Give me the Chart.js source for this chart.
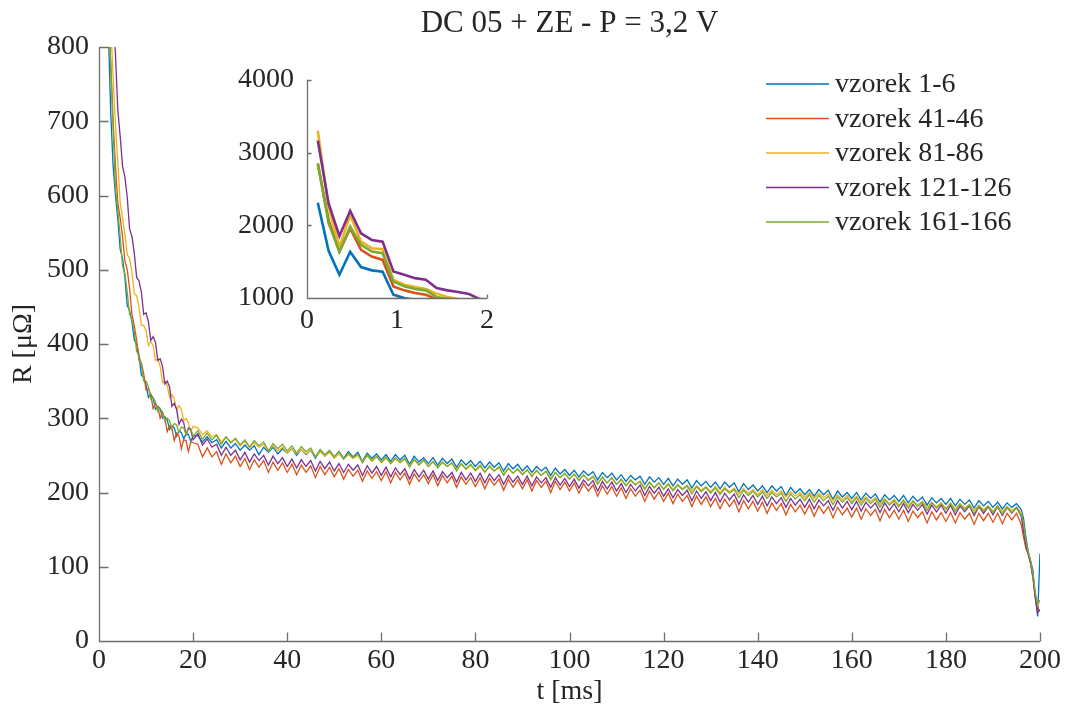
<!DOCTYPE html>
<html><head><meta charset="utf-8">
<script src="https://cdn.jsdelivr.net/npm/chart.js@4.4.0/dist/chart.umd.min.js"></script>
<style>
html,body{margin:0;padding:0;background:#fff;}
#wrap{position:relative;width:1066px;height:718px;overflow:hidden;}
#main{position:absolute;left:0;top:0;}
#inset{position:absolute;left:200px;top:50px;}
</style></head><body>
<div id="wrap"><canvas id="main" width="1066" height="718"></canvas><canvas id="inset" width="300" height="300"></canvas></div>
<script>
const titleText = 'DC 05 + ZE - P = 3,2 V';
const xLabel = 't [ms]';
const yLabel = 'R [\u03bc\u03a9]';
const seriesNames = ['vzorek 1-6','vzorek 41-46','vzorek 81-86','vzorek 121-126','vzorek 161-166'];
const seriesColors = ['#0072BD','#D95319','#EDB120','#7E2F8E','#77AC30'];
const xTicks = [0,20,40,60,80,100,120,140,160,180,200];
const yTicks = [0,100,200,300,400,500,600,700,800];
const insetXTicks = [0,1,2];
const insetYTicks = [1000,2000,3000,4000];

// time [ms]
const t = [0.12,0.24,0.36,0.48,0.6,0.72,0.84,0.96,1.08,1.2,1.32,1.44,1.56,1.68,1.8,1.92,
2,2.5,3,3.5,4,4.5,5,5.5,6,6.5,7,7.5,8,8.5,9,9.5,10,10.5,11,11.5,12,12.5,13,13.5,14,14.5,15,15.5,16,16.5,17,17.5,18,18.5,19,19.5,20,
21,22,23,24,25,26,27,28,29,30,31,32,33,34,35,36,37,38,39,40,
41,42,43,44,45,46,47,48,49,50,51,52,53,54,55,56,57,58,59,60,
61,62,63,64,65,66,67,68,69,70,71,72,73,74,75,76,77,78,79,80,
81,82,83,84,85,86,87,88,89,90,91,92,93,94,95,96,97,98,99,100,
101,102,103,104,105,106,107,108,109,110,111,112,113,114,115,116,117,118,119,120,
121,122,123,124,125,126,127,128,129,130,131,132,133,134,135,136,137,138,139,140,
141,142,143,144,145,146,147,148,149,150,151,152,153,154,155,156,157,158,159,160,
161,162,163,164,165,166,167,168,169,170,171,172,173,174,175,176,177,178,179,180,
181,182,183,184,185,186,187,188,189,190,191,192,193,194,195,196,
196.5,197,197.5,198,198.5,199,199.5,200];

const blue = [2310,1650,1320,1635,1425,1380,1360,1045,1000,975,950,920,895,870,850,835,
820,710,640,600,568,528,515,490,452,445,430,405,400,385,358,355,345,328,332,327,312,316,313,300,302,298,285,290,287,276,283,281,272,279,278,269,276,
277,268,275,267,271,260,269,260,266,257,
264,257,263,251,261,254,261,252,259,253,
259,250,258,251,257,246,256,249,256,248,
255,246,255,248,254,242,253,246,252,244,
251,242,251,244,250,238,249,241,247,239,
247,237,246,239,245,234,244,237,243,235,
242,233,241,234,240,229,239,232,238,229,
236,227,235,229,234,223,233,225,231,223,
230,221,229,223,228,217,227,220,226,217,
224,215,223,217,222,211,221,214,220,211,
219,209,218,211,217,206,216,209,215,207,
214,205,214,207,213,201,212,204,210,202,
209,200,209,202,208,196,207,199,205,197,
204,195,204,197,203,191,202,194,200,192,
200,190,199,192,198,187,197,190,196,188,
196,186,195,188,194,183,193,186,192,184,
192,182,191,184,190,179,189,182,188,180,
187,178,186,180,185,177,
165,140,120,108,95,60,33,118];

const red = [2850,2070,1640,1957,1661,1570,1524,1160,1105,1068,1045,985,960,930,900,870,
855,780,700,640,590,570,545,512,500,475,440,425,405,378,375,360,338,340,332,313,320,315,300,308,300,282,290,286,270,280,276,259,271,270,255,268,267,
265,248,260,248,255,238,252,240,249,235,
246,231,244,234,243,227,241,230,240,227,
238,224,237,227,236,220,235,224,234,221,
232,218,231,222,230,215,229,219,228,216,
228,213,227,217,226,211,225,215,224,212,
224,209,223,213,222,207,221,211,220,208,
220,205,219,210,218,203,218,207,217,205,
217,202,216,207,215,200,215,204,214,202,
213,199,212,202,210,195,209,198,208,195,
206,192,205,195,203,188,202,191,201,188,
199,185,198,188,196,181,195,184,194,181,
192,178,191,181,190,174,189,178,188,175,
187,172,186,176,185,170,184,174,183,171,
183,168,182,172,181,166,180,170,179,167,
179,164,178,169,177,162,177,166,176,164,
176,161,175,166,174,159,174,163,173,161,
173,159,173,164,172,157,172,162,172,160,
172,158,172,163,172,157,
140,125,117,104,85,60,45,40];

const yellow = [3300,2250,1700,2140,1775,1683,1670,1250,1182,1150,1123,1060,1014,985,950,910,
890,830,760,695,645,590,570,548,520,515,497,468,465,450,425,425,418,398,403,398,378,380,370,348,350,344,328,332,326,311,317,312,297,300,294,282,289,
287,278,283,275,278,268,275,267,272,263,
269,261,267,261,265,256,263,256,261,253,
259,252,258,252,257,248,255,249,254,246,
252,245,251,246,250,242,249,242,248,240,
246,239,245,240,245,236,244,237,243,235,
241,234,240,235,239,231,238,231,237,229,
235,228,234,229,233,225,232,226,231,224,
230,223,229,223,228,219,227,220,225,218,
224,217,223,217,221,213,220,213,219,211,
217,210,216,211,215,206,214,207,213,205,
212,204,211,205,210,202,209,203,208,201,
208,200,207,201,206,198,205,199,204,197,
204,196,203,197,202,194,201,195,200,193,
200,192,199,193,198,189,197,190,196,188,
195,187,194,188,193,184,192,185,191,183,
190,182,189,183,188,180,187,181,186,179,
186,178,185,179,184,176,183,177,182,175,
182,174,181,176,180,173,
152,130,118,106,88,62,48,55];

const purple = [3166,2300,1852,2199,1889,1798,1775,1364,1319,1273,1250,1136,1105,1082,1055,985,
975,900,840,790,715,680,640,625,598,555,545,522,490,485,470,440,442,430,405,410,402,378,380,370,346,350,342,316,320,312,292,299,294,278,287,285,271,
279,264,272,261,265,250,261,250,257,244,
254,241,252,243,250,237,249,239,247,235,
245,233,244,235,243,229,242,232,241,229,
239,227,238,230,237,223,236,226,235,223,
234,221,233,224,232,218,231,221,230,218,
229,216,228,220,227,214,227,217,226,215,
226,213,225,216,224,211,223,214,222,211,
222,209,221,213,220,207,220,210,219,208,
218,206,217,209,216,202,215,205,214,202,
212,200,211,202,210,196,208,199,207,195,
205,193,204,196,203,189,202,192,201,189,
200,187,199,190,198,184,197,187,196,184,
195,182,194,185,193,180,192,183,191,180,
191,178,190,182,189,176,189,179,188,177,
188,175,187,179,186,173,186,176,185,174,
185,173,184,176,184,171,183,174,183,172,
183,170,182,174,182,169,181,172,181,170,
181,169,180,172,180,168,
148,128,117,105,86,58,38,42];

const green = [2850,2030,1638,1980,1730,1638,1615,1228,1160,1123,1105,1014,985,950,920,890,
870,770,690,610,580,545,505,495,470,440,433,417,390,385,372,350,350,343,326,328,322,309,313,308,296,300,297,286,293,291,281,288,287,278,285,285,276,
283,272,280,271,277,265,275,267,273,264,
271,261,270,263,268,256,266,259,265,256,
263,253,262,255,260,248,258,251,257,248,
255,245,253,247,252,240,251,243,249,241,
248,239,247,241,246,234,245,237,244,235,
242,233,241,235,240,229,239,232,238,230,
237,227,236,229,235,223,233,226,232,224,
231,221,230,223,229,217,227,220,226,218,
225,216,224,216,222,211,221,213,220,211,
218,209,217,210,215,204,214,206,213,204,
211,202,210,204,209,198,208,201,207,199,
206,197,205,199,204,193,203,196,202,194,
201,192,200,194,199,188,198,191,197,189,
197,187,196,189,195,184,194,187,193,185,
193,183,192,185,191,180,190,183,189,181,
189,179,188,181,187,176,186,179,185,177,
185,175,184,177,183,172,182,175,181,173,
181,171,180,173,179,170,
160,135,120,108,90,65,50,55];

const FONT = '"Liberation Serif", "DejaVu Serif", serif';
const TXT = '#262626';
const AXC = '#6e6e6e';
const allSeries = [blue, red, yellow, purple, green];

function pts(vals){ const n = Math.min(t.length, vals.length); const out=[]; for(let i=0;i<n;i++) out.push({x:t[i], y:vals[i]}); return out; }
function makeDatasets(w){
  return allSeries.map((s,i)=>({label:seriesNames[i], data:pts(s), borderColor:seriesColors[i], backgroundColor:seriesColors[i],
    borderWidth:w, pointRadius:0, tension:0, fill:false, order:4-i}));
}
function axesPlugin(id, tickLen, extra){
  return { id, afterDraw(chart){
    const {ctx, chartArea:a, scales:{x,y}} = chart;
    ctx.save();
    ctx.strokeStyle = AXC; ctx.lineWidth = 1.3; ctx.lineCap='butt';
    const L = Math.round(a.left)+0.5, B = Math.round(a.bottom)+0.5;
    ctx.beginPath();
    ctx.moveTo(L, a.top); ctx.lineTo(L, B); ctx.lineTo(a.right, B);
    x.ticks.forEach(tk=>{ const px=Math.round(x.getPixelForValue(tk.value))+0.5; ctx.moveTo(px,B); ctx.lineTo(px,B-tickLen); });
    y.ticks.forEach(tk=>{ const py=Math.round(y.getPixelForValue(tk.value))+0.5; ctx.moveTo(L,py); ctx.lineTo(L+tickLen,py); });
    ctx.stroke();
    ctx.restore();
    if (extra) extra(chart);
  }};
}
function drawTitleLegend(chart){
  const {ctx, chartArea:a} = chart;
  ctx.save();
  ctx.fillStyle = TXT; ctx.textAlign='center'; ctx.textBaseline='middle';
  ctx.font = "31px " + FONT;
  ctx.fillText(titleText, (a.left+a.right)/2, 24);
  ctx.font = "28px " + FONT; ctx.textAlign='left';
  for (let i=0;i<seriesNames.length;i++){
    const yy = 84 + i*34.5;
    ctx.strokeStyle = seriesColors[i]; ctx.lineWidth = 1.6;
    ctx.beginPath(); ctx.moveTo(766, yy); ctx.lineTo(829, yy); ctx.stroke();
    ctx.fillText(seriesNames[i], 835, yy+1);
  }
  ctx.restore();
}
const tickFmt = v => String(v);

function build(){
new Chart(document.getElementById('main'), {
  type:'line',
  data:{datasets:makeDatasets(1.3)},
  options:{
    responsive:false, animation:false, events:[],
    layout:{padding:{top:47,right:26,left:0,bottom:0}},
    plugins:{legend:{display:false}, tooltip:{enabled:false}, title:{display:false}},
    scales:{
      x:{type:'linear', min:0, max:200,
        afterBuildTicks:s=>{ s.ticks = xTicks.map(v=>({value:v})); },
        afterFit:s=>{ s.height = 77; },
        grid:{display:false, drawTicks:false}, border:{display:false},
        ticks:{font:{family:FONT,size:28}, color:TXT, padding:3, maxRotation:0, autoSkip:false, callback:tickFmt},
        title:{display:true, text:xLabel, font:{family:FONT,size:28}, color:TXT, padding:10}},
      y:{type:'linear', min:0, max:800,
        afterBuildTicks:s=>{ s.ticks = yTicks.map(v=>({value:v})); },
        afterFit:s=>{ s.width = 99; },
        grid:{display:false, drawTicks:false}, border:{display:false},
        ticks:{font:{family:FONT,size:28}, color:TXT, padding:10, autoSkip:false, callback:tickFmt},
        title:{display:true, text:yLabel, font:{family:FONT,size:28}, color:TXT, padding:7}}
    }
  },
  plugins:[axesPlugin('mainAxes', 9, drawTitleLegend)]
});

new Chart(document.getElementById('inset'), {
  type:'line',
  data:{datasets:makeDatasets(2.6)},
  options:{
    responsive:false, animation:false, events:[],
    layout:{padding:{top:29,right:12,left:0,bottom:0}},
    plugins:{legend:{display:false}, tooltip:{enabled:false}, title:{display:false}},
    scales:{
      x:{type:'linear', min:0, max:2,
        afterBuildTicks:s=>{ s.ticks = insetXTicks.map(v=>({value:v})); },
        afterFit:s=>{ s.height = 52; },
        grid:{display:false, drawTicks:false}, border:{display:false},
        ticks:{font:{family:FONT,size:28}, color:TXT, padding:6, maxRotation:0, autoSkip:false, callback:tickFmt}},
      y:{type:'linear', min:1000, max:4000,
        afterBuildTicks:s=>{ s.ticks = insetYTicks.map(v=>({value:v})); },
        afterFit:s=>{ s.width = 107; },
        grid:{display:false, drawTicks:false}, border:{display:false},
        ticks:{font:{family:FONT,size:28}, color:TXT, padding:13, autoSkip:false, callback:tickFmt}}
    }
  },
  plugins:[axesPlugin('insetAxes', 4)]
});
}
let built = false;
function go(){ if(!built){ built = true; build(); } }
if (document.fonts && document.fonts.load) {
  Promise.all([document.fonts.load('28px "Liberation Serif"')]).then(go, go);
  setTimeout(go, 1500);
} else { go(); }
</script>
</body></html>
